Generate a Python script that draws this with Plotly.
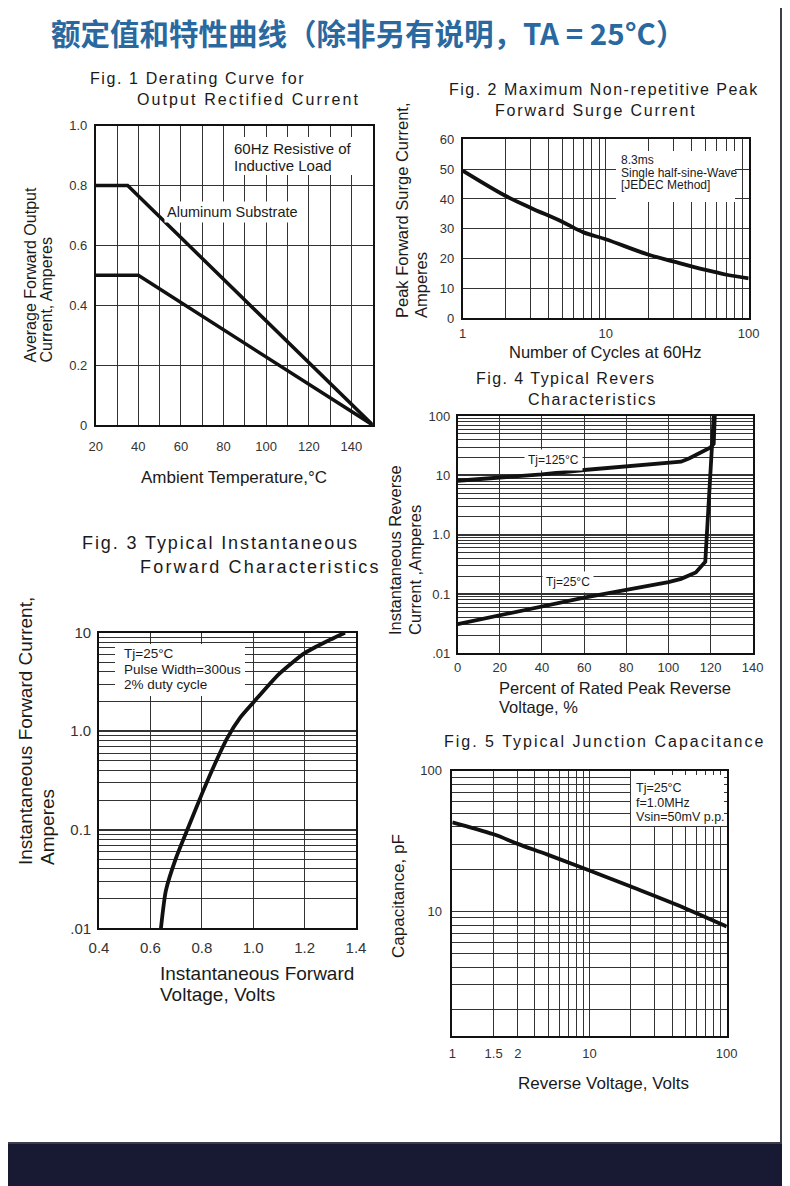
import plotly.graph_objects as go

# The page's body margin places the figure at (8, 8) in the window; all
# positions below are given in window pixels and shifted by OFF.
OFF = 8
W, H = 790, 1186

# ---------------- data ----------------
# Fig.1 Derating curve
f1_temp_upper = [20, 35, 150]
f1_cur_upper = [0.8, 0.8, 0.0]
f1_temp_lower = [20, 40, 150]
f1_cur_lower = [0.5, 0.5, 0.0]
f1_xticks = [20, 40, 60, 80, 100, 120, 140]
f1_xtext = ["20", "40", "60", "80", "100", "120", "140"]
f1_yticks = [0, 0.2, 0.4, 0.6, 0.8, 1.0]
f1_ytext = ["0", "0.2", "0.4", "0.6", "0.8", "1.0"]

# Fig.2 Surge current
f2_cycles = [1, 2, 3, 5, 7, 10, 20, 30, 50, 70, 100]
f2_surge = [49.5, 41, 37, 32.3, 28.8, 26.5, 21.3, 19, 16.2, 14.6, 13.4]
f2_xticks = [1, 10, 100]
f2_xtext = ["1", "10", "100"]
f2_yticks = [0, 10, 20, 30, 40, 50, 60]
f2_ytext = ["0", "10", "20", "30", "40", "50", "60"]

# Fig.3 Forward characteristics
f3_volts = [0.641, 0.66, 0.7, 0.75, 0.8, 0.85, 0.9, 0.95, 1.0, 1.1, 1.2, 1.3, 1.357]
f3_amps = [0.01, 0.024, 0.052, 0.11, 0.23, 0.46, 0.86, 1.38, 1.95, 3.8, 6.2, 8.5, 10]
f3_xticks = [0.4, 0.6, 0.8, 1.0, 1.2, 1.4]
f3_xtext = ["0.4", "0.6", "0.8", "1.0", "1.2", "1.4"]
f3_yticks = [0.01, 0.1, 1, 10]
f3_ytext = [".01", "0.1", "1.0", "10"]

# Fig.4 Reverse characteristics
f4_pct_125 = [0, 20, 30, 40, 60, 80, 100, 106, 110, 115, 120, 121.5, 122]
f4_ir_125 = [8.1, 9.1, 9.8, 10.4, 12.3, 14.0, 15.9, 17.0, 19.4, 24.0, 29.6, 34.0, 100]
f4_pct_25 = [0, 20, 40, 60, 80, 100, 106, 113, 117.5, 121.5]
f4_ir_25 = [0.031, 0.044, 0.0636, 0.087, 0.117, 0.158, 0.18, 0.23, 0.35, 100]
f4_xticks = [0, 20, 40, 60, 80, 100, 120, 140]
f4_xtext = ["0", "20", "40", "60", "80", "100", "120", "140"]
f4_yticks = [0.01, 0.1, 1, 10, 100]
f4_ytext = [".01", "0.1", "1.0", "10", "100"]

# Fig.5 Junction capacitance
f5_volts = [1, 2, 3, 5, 10, 20, 50, 100]
f5_cap = [43, 35.3, 30.2, 25.2, 19.5, 15.0, 10.5, 7.8]
f5_xticks = [1, 2, 3, 10, 100]
f5_xtext = ["1", "1.5", "2", "10", "100"]
f5_yticks = [10, 100]
f5_ytext = ["10", "100"]

# ---------------- helpers ----------------
SANS = "Liberation Sans, Arial, sans-serif"
GRID = "#333333"
INK = "#111111"


def P(x):
    return (x - OFF) / W


def Q(y):
    return 1 - (y - OFF) / H


def log_minor(e0, e1):
    return [m * 10 ** e for e in range(e0, e1) for m in range(2, 10)]


def axis(domain, rng, tickvals, ticktext, anchor, typ="linear", minor=None,
         size=13, standoff=3, gridwidth=1):
    d = dict(domain=domain, range=rng, type=typ, anchor=anchor,
             automargin=False,
             tickmode="array", tickvals=tickvals, ticktext=ticktext,
             showgrid=True, gridcolor=GRID, gridwidth=gridwidth,
             showline=True, linecolor="#111", linewidth=1.6, mirror=True,
             zeroline=False, ticks="", fixedrange=True,
             ticklabelstandoff=int(standoff),
             tickfont=dict(family=SANS, size=size, color="#333"))
    if minor is not None:
        d["minor"] = dict(tickmode="array", tickvals=minor, showgrid=True,
                          gridcolor=GRID, gridwidth=1, ticks="")
    return d


def ann(text, x, y, size, xanchor="center", yanchor="middle", angle=0,
        color="#1a1a1a", family=SANS, weight="normal", **kw):
    return dict(text=text, x=P(x), y=Q(y), xref="paper", yref="paper",
                xanchor=xanchor, yanchor=yanchor, showarrow=False,
                textangle=angle,
                font=dict(size=size, color=color, family=family, weight=weight),
                **kw)


def title(text, x, y, size=16, spacing=1.8):
    return ann('<span style="letter-spacing:%spx">%s</span>' % (spacing, text),
               x, y, size, xanchor="left", color="#1a1a1a")


def white_box(x0, x1, y0, y1):
    return dict(type="rect", xref="paper", yref="paper", x0=P(x0), x1=P(x1),
                y0=Q(y1), y1=Q(y0), fillcolor="white", line=dict(width=0),
                layer="above")


fig = go.Figure()

line_style = dict(color=INK, width=3.5)
fig.add_trace(go.Scatter(x=f1_temp_upper, y=f1_cur_upper, mode="lines", line=line_style, xaxis="x", yaxis="y"))
fig.add_trace(go.Scatter(x=f1_temp_lower, y=f1_cur_lower, mode="lines", line=line_style, xaxis="x", yaxis="y"))
fig.add_trace(go.Scatter(x=f2_cycles, y=f2_surge, mode="lines", line=dict(color=INK, width=3.8, shape="spline"), xaxis="x2", yaxis="y2"))
fig.add_trace(go.Scatter(x=f3_volts, y=f3_amps, mode="lines", line=dict(color=INK, width=3.8, shape="spline", smoothing=0.6), xaxis="x3", yaxis="y3"))
fig.add_trace(go.Scatter(x=f4_pct_125, y=f4_ir_125, mode="lines", line=dict(color=INK, width=3.8), xaxis="x4", yaxis="y4"))
fig.add_trace(go.Scatter(x=f4_pct_25, y=f4_ir_25, mode="lines", line=dict(color=INK, width=3.8), xaxis="x4", yaxis="y4"))
fig.add_trace(go.Scatter(x=f5_volts, y=f5_cap, mode="lines", line=dict(color=INK, width=3.8, shape="spline"), xaxis="x5", yaxis="y5"))

# panel boxes in window pixels: left, right, top, bottom
b1 = (95.7, 372.7, 125.7, 425.0)
b2 = (462.7, 748.7, 139.3, 318.3)
b3 = (99.0, 356.0, 632.7, 928.3)
b4 = (457.7, 752.7, 416.0, 653.3)
b5 = (452.3, 726.7, 770.7, 1036.0)


def xd(b):
    return [P(b[0]), P(b[1])]


def yd(b):
    return [Q(b[3]), Q(b[2])]


layout = dict(
    template="none",
    width=W, height=H, margin=dict(l=0, r=0, t=0, b=0, pad=0, autoexpand=False),
    paper_bgcolor="#181a33", plot_bgcolor="rgba(0,0,0,0)",
    showlegend=False,
    xaxis=axis(xd(b1), [20, 150], f1_xticks, f1_xtext, "y",
               minor=[30, 50, 70, 90, 110, 130], standoff=9),
    yaxis=axis(yd(b1), [0, 1], f1_yticks, f1_ytext, "x", standoff=4),
    xaxis2=axis(xd(b2), [0, 2], f2_xticks, f2_xtext, "y2", typ="log",
                minor=log_minor(0, 2), standoff=2),
    yaxis2=axis(yd(b2), [0, 60], f2_yticks, f2_ytext, "x2", standoff=4),
    xaxis3=axis(xd(b3), [0.4, 1.4], f3_xticks, f3_xtext, "y3", size=15, standoff=5),
    yaxis3=axis(yd(b3), [-2, 1], f3_yticks, f3_ytext, "x3", typ="log",
                minor=log_minor(-2, 1), size=15, standoff=3, gridwidth=2),
    xaxis4=axis(xd(b4), [0, 140], f4_xticks, f4_xtext, "y4", standoff=1),
    yaxis4=axis(yd(b4), [-2, 2], f4_yticks, f4_ytext, "x4", typ="log",
                minor=log_minor(-2, 2), standoff=3, gridwidth=2),
    xaxis5=axis(xd(b5), [0, 2], f5_xticks, f5_xtext, "y5", typ="log",
                minor=[4, 5, 6, 7, 8, 9] + log_minor(1, 2), standoff=5),
    yaxis5=axis(yd(b5), [0.114, 2], f5_yticks, f5_ytext, "x5", typ="log",
                minor=log_minor(0, 2), standoff=6),
)

shapes = [
    dict(type="rect", xref="paper", yref="paper", x0=P(7), x1=P(781),
         y0=Q(1143), y1=Q(-5), fillcolor="white",
         line=dict(color="#3c3d4a", width=2), layer="below"),
    white_box(230, 357, 137, 175),      # fig1 text box
    white_box(616, 735, 151, 202),      # fig2 text box
    white_box(115, 245, 644, 696),      # fig3 text box
    white_box(631, 724, 775, 826),      # fig5 text box
]

annotations = [
    ann("额定值和特性曲线（除非另有说明，TA = 25°C）", 368, 32, 29.5,
        color="#2a68a0", family="Noto Sans CJK SC, sans-serif", weight="bold"),
    # figure titles
    title("Fig. 1 Derating Curve for", 88, 79, spacing=1.6),
    title("Output Rectified Current", 135, 100, spacing=2.1),
    title("Fig. 2 Maximum Non-repetitive Peak", 447, 89, spacing=1.5),
    title("Forward Surge Current", 493, 110, spacing=1.8),
    title("Fig. 4 Typical Revers", 474, 379, spacing=1.45),
    title("Characteristics", 526, 400, spacing=1.55),
    title("Fig. 3 Typical Instantaneous", 80, 543, size=18, spacing=1.9),
    title("Forward Characteristics", 138, 567, size=18, spacing=2.2),
    title("Fig. 5 Typical Junction Capacitance", 442, 741, spacing=2.0),
    # fig1 labels
    ann("Average Forward Output", 30, 365, 16, yanchor="bottom", angle=-90),
    ann("Current, Amperes", 46, 365, 16, yanchor="bottom", angle=-90),
    ann("Ambient Temperature,°C", 234, 478, 17),
    ann("60Hz Resistive of", 232, 148, 15, xanchor="left"),
    ann("Inductive Load", 232, 165, 15, xanchor="left"),
    ann("Aluminum Substrate", 232, 211.7, 14.5, bgcolor="white", borderpad=2),
    # fig2 labels
    ann("Peak Forward Surge Current,", 402, 320, 16.5, yanchor="bottom", angle=-90),
    ann("Amperes", 421, 320, 16.5, yanchor="bottom", angle=-90),
    ann("Number of Cycles at 60Hz", 605.5, 352, 16.5),
    ann("8.3ms", 619, 160, 12, xanchor="left"),
    ann("Single half-sine-Wave", 619, 172.7, 12, xanchor="left"),
    ann("[JEDEC Method]", 619, 185, 12, xanchor="left"),
    # fig3 labels
    ann("Instantaneous Forward Current,", 26, 867, 19, yanchor="bottom", angle=-90),
    ann("Amperes", 48, 867, 19, yanchor="bottom", angle=-90),
    ann("Instantaneous Forward", 158, 973, 19, xanchor="left"),
    ann("Voltage, Volts", 158, 995, 19, xanchor="left"),
    ann("Tj=25°C", 122, 653.3, 13.5, xanchor="left"),
    ann("Pulse Width=300us", 122, 669, 13.5, xanchor="left"),
    ann("2% duty cycle", 122, 684.3, 13.5, xanchor="left"),
    # fig4 labels
    ann("Instantaneous Reverse", 395, 637, 16.5, yanchor="bottom", angle=-90),
    ann("Current ,Amperes", 415, 637, 16.5, yanchor="bottom", angle=-90),
    ann("Percent of Rated Peak Reverse", 497, 688, 16.5, xanchor="left"),
    ann("Voltage, %", 497, 707, 16.5, xanchor="left"),
    ann("Tj=125°C", 553, 460, 12, bgcolor="white", borderpad=3),
    ann("Tj=25°C", 568, 581.7, 12, bgcolor="white", borderpad=3),
    # fig5 labels
    ann("Capacitance, pF", 398, 960, 17, yanchor="bottom", angle=-90),
    ann("Reverse Voltage, Volts", 603.5, 1083, 17),
    ann("Tj=25°C", 634, 788.3, 12.5, xanchor="left"),
    ann("f=1.0MHz", 634, 802.7, 12.5, xanchor="left"),
    ann("Vsin=50mV p.p.", 634, 816.7, 12.5, xanchor="left"),
]

layout["shapes"] = shapes
layout["annotations"] = annotations
fig.update_layout(**layout)
fig.write_html("out.html")
